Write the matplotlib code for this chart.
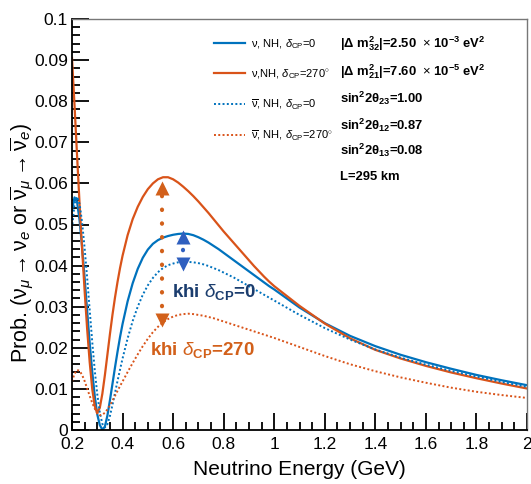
import numpy as np
import matplotlib
matplotlib.use("Agg")
import matplotlib.pyplot as plt

plt.rcParams['font.family'] = ['Liberation Sans', 'DejaVu Sans']
plt.rcParams['mathtext.fontset'] = 'custom'
plt.rcParams['mathtext.rm'] = 'Liberation Sans'
plt.rcParams['mathtext.it'] = 'Liberation Sans:italic'
plt.rcParams['mathtext.bf'] = 'Liberation Sans:bold'

# neutrino energy (GeV)
energy = [0.20, 0.21, 0.22, 0.23, 0.24, 0.25, 0.26, 0.27, 0.28, 0.29,
          0.30, 0.31, 0.32, 0.33, 0.34, 0.35, 0.36, 0.37, 0.38, 0.39,
          0.40, 0.42, 0.44, 0.46, 0.48, 0.50, 0.52, 0.54, 0.56, 0.58,
          0.60, 0.62, 0.64, 0.66, 0.68, 0.70, 0.72, 0.74, 0.76, 0.78,
          0.80, 0.82, 0.84, 0.86, 0.88, 0.90, 0.92, 0.94, 0.96, 0.98,
          1.00, 1.10, 1.20, 1.30, 1.40, 1.50, 1.60, 1.70, 1.80, 1.90, 2.00]

# appearance probabilities, normal hierarchy
nu_cp0 = [0.0535, 0.0566, 0.0555, 0.0510, 0.0445, 0.0370, 0.0290, 0.0212, 0.0142, 0.0083,
          0.0038, 0.0012, 0.0001, 0.0008, 0.0035, 0.0072, 0.0112, 0.0152, 0.0190, 0.0226,
          0.0258, 0.0313, 0.0357, 0.0392, 0.0419, 0.0439, 0.0453, 0.0462, 0.0468, 0.0472,
          0.0475, 0.0477, 0.0478, 0.0477, 0.0474, 0.0469, 0.0463, 0.0456, 0.0448, 0.0440,
          0.0431, 0.0422, 0.0413, 0.0404, 0.0395, 0.0386, 0.0377, 0.0368, 0.0359, 0.0350,
          0.0342, 0.0298, 0.0260, 0.0229, 0.0204, 0.0183, 0.0165, 0.0149, 0.0134, 0.0121, 0.0109]
nu_cp270 = [0.0905, 0.0790, 0.0668, 0.0550, 0.0440, 0.0338, 0.0245, 0.0165, 0.0100, 0.0058,
            0.0041, 0.0054, 0.0088, 0.0133, 0.0183, 0.0233, 0.0280, 0.0322, 0.0360, 0.0394,
            0.0424, 0.0474, 0.0513, 0.0543, 0.0567, 0.0586, 0.0600, 0.0610, 0.0615, 0.0615,
            0.0610, 0.0602, 0.0592, 0.0581, 0.0569, 0.0556, 0.0542, 0.0528, 0.0513, 0.0498,
            0.0483, 0.0469, 0.0455, 0.0441, 0.0427, 0.0413, 0.0399, 0.0386, 0.0373, 0.0361,
            0.0350, 0.0302, 0.0259, 0.0223, 0.0195, 0.0174, 0.0156, 0.0140, 0.0126, 0.0113, 0.0101]
nubar_cp0 = [0.0490, 0.0550, 0.0568, 0.0550, 0.0505, 0.0442, 0.0370, 0.0292, 0.0215, 0.0145,
             0.0087, 0.0043, 0.0015, 0.0006, 0.0014, 0.0034, 0.0061, 0.0090, 0.0119, 0.0147,
             0.0174, 0.0223, 0.0265, 0.0300, 0.0329, 0.0352, 0.0370, 0.0384, 0.0394, 0.0401,
             0.0405, 0.0408, 0.0409, 0.0409, 0.0408, 0.0406, 0.0403, 0.0399, 0.0394, 0.0389,
             0.0383, 0.0377, 0.0371, 0.0364, 0.0357, 0.0350, 0.0343, 0.0336, 0.0329, 0.0322,
             0.0315, 0.0280, 0.0248, 0.0220, 0.0196, 0.0176, 0.0159, 0.0144, 0.0130, 0.0117, 0.0105]
nubar_cp270 = [0.0118, 0.0137, 0.0146, 0.0144, 0.0134, 0.0119, 0.0101, 0.0083, 0.0066, 0.0052,
               0.0040, 0.0036, 0.0037, 0.0042, 0.0050, 0.0060, 0.0071, 0.0083, 0.0095, 0.0107,
               0.0118, 0.0141, 0.0163, 0.0184, 0.0204, 0.0222, 0.0238, 0.0251, 0.0262, 0.0270,
               0.0276, 0.0280, 0.0282, 0.0283, 0.0282, 0.0280, 0.0278, 0.0275, 0.0272, 0.0268,
               0.0264, 0.0260, 0.0256, 0.0252, 0.0248, 0.0244, 0.0240, 0.0236, 0.0232, 0.0228,
               0.0224, 0.0202, 0.0180, 0.0160, 0.0143, 0.0128, 0.0115, 0.0103, 0.0093, 0.0085, 0.0078]

# CP separation arrows: energy, lower end, upper end
arrow_cp0 = (0.638, 0.0404, 0.0470)
arrow_cp270 = (0.556, 0.0268, 0.0589)

params = [r"|$\mathbf{\Delta}$ m$^{\mathbf{2}}_{\mathbf{32}}$|=2.50  $\times$ 10$^{\mathbf{-3}}$ eV$^{\mathbf{2}}$",
          r"|$\mathbf{\Delta}$ m$^{\mathbf{2}}_{\mathbf{21}}$|=7.60  $\times$ 10$^{\mathbf{-5}}$ eV$^{\mathbf{2}}$",
          r"sin$^{\mathbf{2}}$2$\mathbf{\theta}_{\mathbf{23}}$=1.00",
          r"sin$^{\mathbf{2}}$2$\mathbf{\theta}_{\mathbf{12}}$=0.87",
          r"sin$^{\mathbf{2}}$2$\mathbf{\theta}_{\mathbf{13}}$=0.08",
          "L=295 km"]
param_rows = [0.9392, 0.8710, 0.8078, 0.7421, 0.6813, 0.6156]

blue = '#0072BD'
orange = '#D95319'

fig = plt.figure(figsize=(5.31, 4.84), dpi=100)
ax = fig.add_axes([72/531, 54/484, 455/531, 411/484])

ax.plot(energy, nu_cp0, color=blue, lw=1.6,
        label=r"$\mathrm{\nu}$, NH, $\delta_{\mathrm{CP}}$=0")
ax.plot(energy, nu_cp270, color=orange, lw=1.6,
        label=r"$\mathrm{\nu}$,NH, $\delta_{\mathrm{CP}}$=270$^{\circ}$")
ax.plot(energy, nubar_cp0, color=blue, lw=1.4, ls=(0, (1, 1.2)),
        label=r"$\overline{\mathrm{\nu}}$, NH, $\delta_{\mathrm{CP}}$=0")
ax.plot(energy, nubar_cp270, color=orange, lw=1.4, ls=(0, (1, 1.2)),
        label=r"$\overline{\mathrm{\nu}}$, NH, $\delta_{\mathrm{CP}}$=270$^{\circ}$")

# dotted arrows between neutrino and antineutrino peaks
for (e, lo, hi), col in [(arrow_cp270, '#D2601A'), (arrow_cp0, '#2F5FBF')]:
    ax.plot([e, e], [lo, hi], color=col, lw=3, ls=(0, (0.1, 3.2)),
            dash_capstyle='round')
    ax.plot(e, hi, marker='^', color=col, ms=10, mec='none')
    ax.plot(e, lo, marker='v', color=col, ms=10, mec='none')

ax.text(0.596, 0.0336, r"khi $\delta_{\mathbf{CP}}$=0", color='#1B3D6E',
        fontsize=13.5, fontweight='bold', va='center')
ax.text(0.509, 0.0195, r"khi $\delta_{\mathbf{CP}}$=270", color='#D2601A',
        fontsize=13.5, fontweight='bold', va='center')

for p, row in zip(params, param_rows):
    ax.text(0.589, row, p, transform=ax.transAxes, fontsize=9.4,
            fontweight='bold', va='center')

ax.legend(loc='upper left', bbox_to_anchor=(0.29, 0.98), frameon=False,
          fontsize=8, handlelength=2.8, labelspacing=1.5, handletextpad=0.55)

ax.set_xlim(0.2, 2)
ax.set_ylim(0, 0.1)
ax.set_xticks(np.arange(0.2, 2.01, 0.2))
ax.set_xticklabels(['0.2', '0.4', '0.6', '0.8', '1', '1.2', '1.4', '1.6', '1.8', '2'])
ax.set_xticks(np.arange(0.2, 2.001, 0.05), minor=True)
ax.set_yticks(np.arange(0, 0.101, 0.01))
ax.set_yticklabels(['0', '0.01', '0.02', '0.03', '0.04', '0.05', '0.06', '0.07', '0.08', '0.09', '0.1'])
ax.set_yticks(np.arange(0, 0.1001, 0.002), minor=True)
ax.tick_params(which='both', direction='in', top=False, right=False, width=1.3, labelsize=12.5)
ax.tick_params(which='major', length=12)
ax.tick_params(which='minor', length=6)
ax.tick_params(axis='x', pad=5)
ax.tick_params(axis='y', pad=3)

for side in ['left', 'bottom']:
    ax.spines[side].set_linewidth(1.3)
for side in ['top', 'right']:
    ax.spines[side].set_color('#777777')
    ax.spines[side].set_linewidth(1.0)

ax.set_xlabel('Neutrino Energy (GeV)', fontsize=15, labelpad=6)
ax.set_ylabel(r"Prob. ($\mathrm{\nu}_{\mu}\rightarrow\mathrm{\nu}_{e}$ or "
              r"$\overline{\mathrm{\nu}}_{\mu}\rightarrow\overline{\mathrm{\nu}}_{e}$)",
              fontsize=15.5)
ax.yaxis.set_label_coords(-0.08, 0.456)

fig.savefig('out.png', dpi=100)
